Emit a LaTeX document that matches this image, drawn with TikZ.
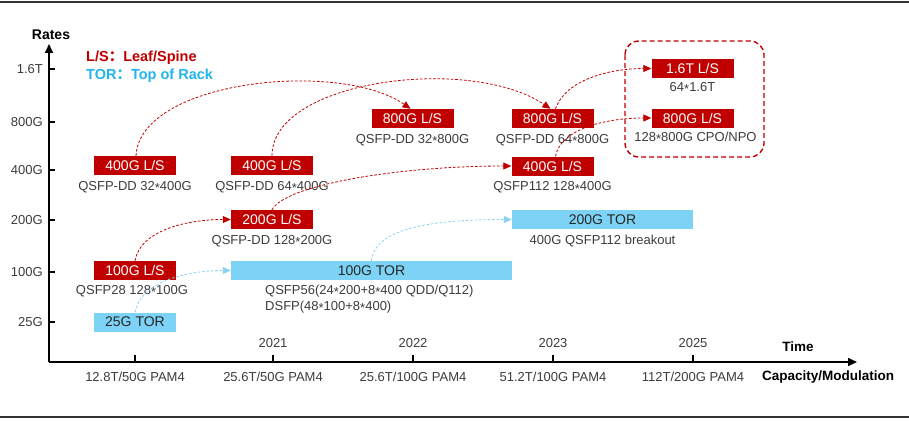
\documentclass[tikz,border=0pt]{standalone}
\usepackage{fontspec}
\setmainfont{Liberation Sans}
\newfontfamily\cjk{Noto Sans CJK SC}
\usetikzlibrary{arrows.meta,positioning}
\definecolor{lsred}{HTML}{C00000}
\definecolor{torblue}{HTML}{7DD3F6}
\definecolor{legblue}{HTML}{22B4EC}
\definecolor{linkblue}{HTML}{8CD2F0}
\definecolor{txtgray}{HTML}{3C3C3C}
\newcommand{\tms}{\raisebox{-0.3ex}{*}}
\tikzset{
  every node/.style={font=\fontsize{13}{16}\selectfont, text=txtgray},
  lsbox/.style={fill=lsred, text=white, font=\fontsize{14}{16}\selectfont, minimum width=82pt, minimum height=19pt, inner sep=0pt},
  torbox/.style={fill=torblue, text=black!85, font=\fontsize{14}{16}\selectfont, minimum height=19pt, inner sep=0pt},
  subtxt/.style={inner sep=0pt, below=6pt of #1},
  lslink/.style={lsred, dashed, dash pattern=on 2.6pt off 1.8pt, line width=0.8pt, -{Triangle[length=8pt,width=7pt]}},
  torlink/.style={linkblue, dashed, dash pattern=on 2.6pt off 1.8pt, line width=0.8pt, -{Triangle[length=8pt,width=7pt]}},
}
\begin{document}
\begin{tikzpicture}[x=1pt,y=-1pt]
\useasboundingbox (0,0) rectangle (909,420);
% frame lines
\draw[line width=2pt, black!80] (0,2) -- (909,2);
\draw[line width=2pt, black!80] (0,417) -- (909,417);
% Axes
\coordinate (orig) at (49,362);
\coordinate (ytop) at (49,44);
\coordinate (xend) at (857,362);
\draw[line width=1.6pt, -{Triangle[length=9pt,width=8pt]}] (orig) -- (ytop);
\draw[line width=1.6pt, -{Triangle[length=9pt,width=8pt]}] (orig) -- (xend);
\node[font=\bfseries\fontsize{14}{16}\selectfont, text=black] (rates) at (51,35) {Rates};
\node[font=\bfseries\fontsize{13.5}{16}\selectfont, text=black] (time) at (798,347) {Time};
\node[font=\bfseries\fontsize{13.5}{16}\selectfont, text=black] (capmod) at (828,377) {Capacity/Modulation};
% Rate ticks
\foreach \y/\t [count=\i] in {69/1.6T,122/800G,170/400G,220/200G,272/100G,322/25G}{
  \draw[line width=1.6pt] (49,\y) -- ++(6,0);
  \node[anchor=east, inner sep=0pt] (rate\i) at (43,\y) {\t};
}
% Time ticks
\foreach \x [count=\i] in {135,273,413,553,693}{
  \draw[line width=1.6pt] (\x,362) -- ++(0,-7);
}
\node (yr2021) at (273,343) {2021};
\node (yr2022) at (413,343) {2022};
\node (yr2023) at (553,343) {2023};
\node (yr2025) at (693,343) {2025};
\node (cap1) at (135,377) {12.8T/50G PAM4};
\node (cap2) at (273,377) {25.6T/50G PAM4};
\node (cap3) at (413,377) {25.6T/100G PAM4};
\node (cap4) at (553,377) {51.2T/100G PAM4};
\node (cap5) at (693,377) {112T/200G PAM4};
% Legend
\node[anchor=west, inner sep=0pt, text=lsred, font=\bfseries\fontsize{14.5}{17}\selectfont] (legls) at (86,58) {L/S{\cjk ：}Leaf/Spine};
\node[anchor=west, inner sep=0pt, text=legblue, font=\bfseries\fontsize{14.5}{17}\selectfont] (legtor) at (86,76) {TOR{\cjk ：}Top of Rack};
% Leaf/Spine boxes
\node[lsbox] (ls400a) at (135,165.5) {400G L/S};
\node[subtxt=ls400a] (ls400atxt) {QSFP-DD 32\tms400G};
\node[lsbox] (ls400b) at (272,165.5) {400G L/S};
\node[subtxt=ls400b] (ls400btxt) {QSFP-DD 64\tms400G};
\node[lsbox] (ls800a) at (412.5,118.5) {800G L/S};
\node[subtxt=ls800a] (ls800atxt) {QSFP-DD 32\tms800G};
\node[lsbox] (ls800b) at (552.5,118.5) {800G L/S};
\node[subtxt=ls800b] (ls800btxt) {QSFP-DD 64\tms800G};
\node[lsbox] (ls400c) at (552.5,166) {400G L/S};
\node[subtxt=ls400c] (ls400ctxt) {QSFP112 128\tms400G};
\node[lsbox] (ls1t6) at (692.5,68.5) {1.6T L/S};
\node[subtxt=ls1t6, below=4pt of ls1t6] (ls1t6txt) {64\tms1.6T};
\node[lsbox] (ls800c) at (692.5,118) {800G L/S};
\node[subtxt=ls800c, below=4pt of ls800c, xshift=3pt] (ls800ctxt) {128\tms800G CPO/NPO};
\node[lsbox] (ls200a) at (272,219.5) {200G L/S};
\node[subtxt=ls200a] (ls200atxt) {QSFP-DD 128\tms200G};
\node[lsbox] (ls100a) at (135,270.5) {100G L/S};
\node[subtxt=ls100a, xshift=-3pt, below=5pt of ls100a] (ls100atxt) {QSFP28 128\tms100G};
% dashed frame round the 2025 boxes
\draw[lsred, dashed, dash pattern=on 5pt off 3pt, line width=1.4pt, rounded corners=14pt] (625,41) rectangle (764,157);
% TOR boxes
\node[torbox, minimum width=82pt] (tor25) at (135,322) {25G TOR};
\node[torbox, minimum width=281pt] (tor100) at (371.5,270.5) {100G TOR};
\node[anchor=north west, inner sep=0pt, align=left] (tor100txt) at (265,285) {QSFP56(24\tms200+8\tms400 QDD/Q112)\\DSFP(48\tms100+8\tms400)};
\node[torbox, minimum width=181pt] (tor200) at (602.5,219.5) {200G TOR};
\node[subtxt=tor200] (tor200txt) {400G QSFP112 breakout};
% Leaf/Spine links
\draw[lslink] ([xshift=1pt]ls400a.north) .. controls +(4,-76) and +(-70,-49) .. ([xshift=-2pt]ls800a.north);
\draw[lslink] (ls400b.north) .. controls +(0,-76) and +(-80,-54) .. ([xshift=-2pt]ls800b.north);
\draw[lslink] ([xshift=3pt]ls800b.north) .. controls +(10,-29) and +(-42,0) .. (ls1t6.west);
\draw[lslink] ([xshift=3pt]ls400c.north) .. controls +(5,-27) and +(-47,0) .. (ls800c.west);
\draw[lslink] (ls200a.north) .. controls +(13,-25) and +(-112,0) .. (ls400c.west);
\draw[lslink] (ls100a.north) .. controls +(5,-30) and +(-45,0) .. (ls200a.west);
% TOR links
\draw[torlink] (tor25.north) .. controls +(5,-30) and +(-45,0) .. (tor100.west);
\draw[torlink] (tor100.north) .. controls +(3,-35) and +(-70,0) .. (tor200.west);
\end{tikzpicture}
\end{document}
